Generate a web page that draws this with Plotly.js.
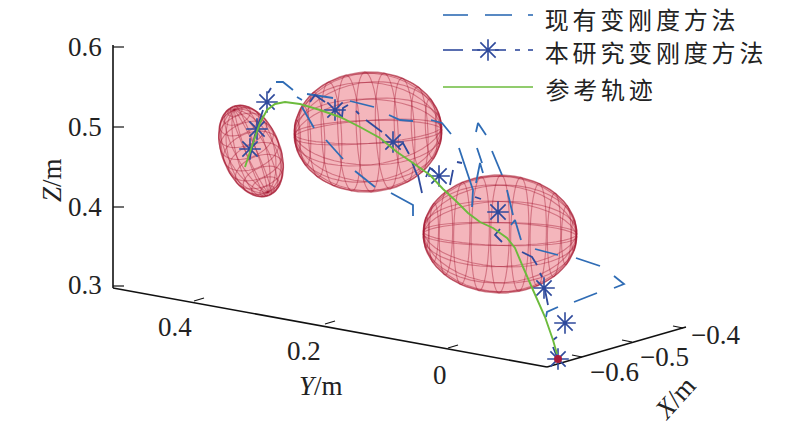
<!DOCTYPE html>
<html><head><meta charset="utf-8">
<script src="https://cdn.plot.ly/plotly-3.0.1.min.js"></script>
<style>html,body{margin:0;padding:0;background:#fff}#c{width:800px;height:425px}</style>
</head><body><div id="c"></div>
<script>
// All series in the oblique (projected) view plane of the 3D figure.
const legendNames = ['现有变刚度方法','本研究变刚度方法','参考轨迹'];
const zTickLabels = ['0.6','0.5','0.4','0.3'];
const yTickLabels = ['0.4','0.2','0'];
const xTickLabels = ['\u22120.6','\u22120.5','\u22120.4'];

// reference trajectory
const trajU = [557,553,545,533,523,515,507,493,480,468,457,443,430,413,397,380,360,340,320,300,285,275,267,260,253,245];
const trajV = [354,340,317,290,267,248,238,228,222,213,202,189,175,163,152,138,127,117,110,104,102,104,110,123,143,167];

// existing method: visible dashes, null separates dashes
const existU = [535,558,null,576,600,null,614,624,614,null,597,574,null,558,547,546,null,507,513,null,511,515,521,null,492,502,null,476,478,486,null,477,482,null,483,480,476,null,459,468,473,472,null,431,442,451,null,389,400,413,null,391,413,413,null,276,283,293,null,297,302,null,302,314,null,326,343,null,355,375,null,307,333,null,350,374];
const existV = [249,255,null,258,266,null,276,284,288,null,293,302,null,307,312,317,null,190,215,null,225,220,240,null,151,175,null,132,123,135,null,148,163,null,173,163,183,null,148,175,190,207,null,120,123,134,null,115,120,121,null,193,205,216,null,82,82,90,null,97,100,null,107,128,null,140,159,null,171,187,null,94,98,null,101,107];

// proposed method: visible dashes and dots
const propU = [268,271,null,263,255,250,null,310,315,325,null,342,343,348,null,356,359,null,366,382,null,398,403,409,null,412,417,null,418,422,null,426,430,435,null,453,450,null,457,462,null,475,481,null,500,495,502,null,522,532,537,null,540,542,null,545,548,null,553,557,null,557,553];
const propV = [93,88,null,110,135,157,null,102,95,102,null,117,108,105,null,111,114,null,120,132,null,147,143,154,null,162,175,null,175,193,null,177,168,172,null,170,185,null,162,163,null,197,199,null,229,235,242,null,252,257,265,null,273,277,null,290,305,null,347,357,null,337,340];

// proposed method: star markers
const starU = [558,565,544,498,439,393,335,267,257,250];
const starV = [359,323,288,212,176,142,110,102,129,149];

// start point
const startU = [558];
const startV = [359];

// obstacles: centre, semi-axes, tilt in view plane (deg), view inclination of the polar axis (deg)
const obstacleCU = [251,368,500];
const obstacleCV = [151,132,234];
const obstacleA  = [48,74,77];
const obstacleB  = [29,60,59];
const obstacleTilt = [68,-3,1];
const obstacleIncl = [22,9,7];

// axes
const axisU = [113,113,null,113,547,null,547,686];
const axisV = [45,288,null,288,367,null,367,327];
const zTickU = [113,124,null,113,124,null,113,124,null,113,124];
const zTickV = [47,47,null,127,127,null,207,207,null,286,286];
const yTickU = [194,204,null,325,335,null,448,458];
const yTickV = [301,298,null,324,321,null,348,345];
const xTickU = [582,572,null,632,622,null,683,673];
const xTickV = [357,355,null,342,340,null,328,326];

// legend samples
const key1U = [443,468,null,485,512,null,528,533];
const key1V = [15,15,null,15,15,null,15,15];
const key2U = [443,463,null,472,480,null,495,506,null,515,520,null,528,533];
const key2V = [50,50,null,50,50,null,50,50,null,50,50,null,50,50];
const key3U = [443,533];
const key3V = [87,87];

function meshOf(i){
  const rings=12, merid=16, ca=obstacleIncl[i]*Math.PI/180, t=obstacleTilt[i]*Math.PI/180;
  const pt=(th,ph)=>{
    const u=Math.cos(th)*Math.cos(ca)+Math.sin(th)*Math.sin(ph)*Math.sin(ca);
    const v=Math.sin(th)*Math.cos(ph);
    const du=obstacleA[i]*u, dv=obstacleB[i]*v;
    return [obstacleCU[i]+du*Math.cos(t)-dv*Math.sin(t), obstacleCV[i]+du*Math.sin(t)+dv*Math.cos(t)];
  };
  const X=[],Y=[],oX=[],oY=[];
  for(let a=1;a<rings;a++){for(let b=0;b<=40;b++){const p=pt(a*Math.PI/rings,b*Math.PI/20);X.push(p[0]);Y.push(p[1]);}X.push(null);Y.push(null);}
  for(let b=0;b<merid;b++){for(let a=0;a<=20;a++){const p=pt(a*Math.PI/20,(b+0.5)*2*Math.PI/merid);X.push(p[0]);Y.push(p[1]);}X.push(null);Y.push(null);}
  for(let b=0;b<=72;b++){const w=b*Math.PI/36,du=obstacleA[i]*Math.cos(w),dv=obstacleB[i]*Math.sin(w);
    oX.push(obstacleCU[i]+du*Math.cos(t)-dv*Math.sin(t));oY.push(obstacleCV[i]+du*Math.sin(t)+dv*Math.cos(t));}
  return {X,Y,oX,oY};
}

const line=(x,y,color,width,name)=>({type:'scatter',mode:'lines',x,y,name,connectgaps:false,hoverinfo:'skip',line:{color,width,simplify:false}});
const traces=[];
[0,1,2].forEach(i=>{
  const m=meshOf(i);
  traces.push({type:'scatter',mode:'lines',x:m.oX,y:m.oY,fill:'toself',fillcolor:'rgba(228,80,95,0.42)',line:{color:'rgba(170,35,55,0.55)',width:1.5},hoverinfo:'skip'});
  traces.push(line(m.X,m.Y,'rgba(165,25,50,0.42)',1.1,'obstacle'));
});
traces.push(line(axisU,axisV,'#111',1.6,'axes'));
traces.push(line(zTickU,zTickV,'#111',1.2,'z ticks'));
traces.push(line(yTickU,yTickV,'#111',1.2,'y ticks'));
traces.push(line(xTickU,xTickV,'#111',1.2,'x ticks'));
traces.push(line(existU,existV,'#2f6cb5',1.8,legendNames[0]));
traces.push(line(propU,propV,'#2f4a9c',1.8,legendNames[1]));
traces.push({type:'scatter',mode:'markers',x:starU,y:starV,hoverinfo:'skip',marker:{symbol:'asterisk-open',size:18,color:'#2f4a9c',line:{color:'#2f4a9c',width:1.6}}});
traces.push(line(trajU,trajV,'#6cbb3c',1.9,legendNames[2]));
traces.push({type:'scatter',mode:'markers',x:startU,y:startV,hoverinfo:'skip',marker:{symbol:'circle',size:8,color:'#a81c3c'}});
traces.push(line(key1U,key1V,'#2f6cb5',1.6,'key'));
traces.push(line(key2U,key2V,'#2f4a9c',1.6,'key'));
traces.push({type:'scatter',mode:'markers',x:[488],y:[50],hoverinfo:'skip',marker:{symbol:'asterisk-open',size:18,color:'#2f4a9c',line:{color:'#2f4a9c',width:1.6}}});
traces.push(line(key3U,key3V,'#6cbb3c',1.6,'key'));

const serif='"Liberation Serif","Times New Roman",serif';
const ann=(x,y,text,o={})=>Object.assign({xref:'x',yref:'y',x,y,text,showarrow:false,xanchor:'center',yanchor:'middle',font:{family:serif,size:27,color:'#222'}},o);
const annotations=[];
zTickLabels.forEach((t,i)=>annotations.push(ann(85,[47,127,207,285][i],t)));
yTickLabels.forEach((t,i)=>annotations.push(ann([175,304,440][i],[327,351,375][i],t)));
xTickLabels.forEach((t,i)=>annotations.push(ann([614,664,715][i],[372,357,335][i],t)));
annotations.push(ann(321,386,'<i>Y</i>/m',{font:{family:serif,size:27,color:'#222'}}));
annotations.push(ann(675,398,'<i>X</i>/m',{textangle:-48,font:{family:serif,size:27,color:'#222'}}));
annotations.push(ann(52,180,'<i>Z</i>/m',{textangle:-90,font:{family:serif,size:27,color:'#222'}}));
const spacing=3.8;
legendNames.forEach((t,i)=>annotations.push(ann(543+t.length*spacing*0.5,[18,51.5,88][i],t,{xanchor:'left',font:{family:'"Noto Sans CJK SC",sans-serif',size:24,color:'#222'}})));

Plotly.newPlot('c',traces,{
  width:800,height:425,margin:{l:0,r:0,t:0,b:0},showlegend:false,
  paper_bgcolor:'#fff',plot_bgcolor:'#fff',
  xaxis:{range:[0,800],visible:false,fixedrange:true},
  yaxis:{range:[425,0],visible:false,fixedrange:true},
  annotations
},{displayModeBar:false,staticPlot:true}).then(()=>{
  document.querySelectorAll('.annotation-text').forEach(el=>{
    if(/[\u4e00-\u9fff]/.test(el.textContent)) el.style.letterSpacing=spacing+'px';
  });
});
</script></body></html>
